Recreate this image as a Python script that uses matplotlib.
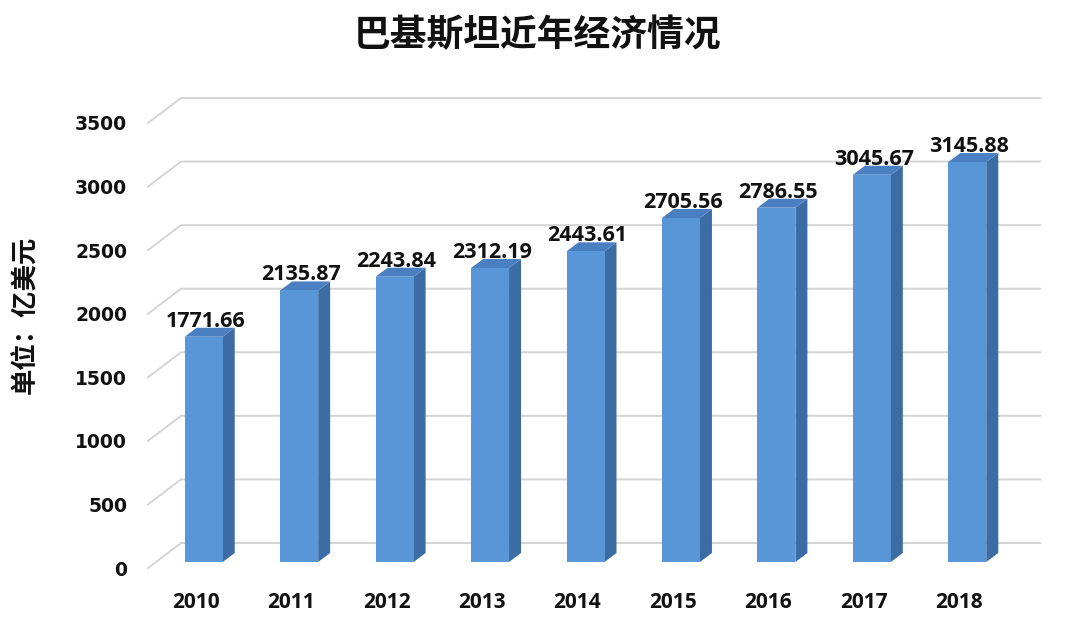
import matplotlib
matplotlib.use('Agg')
import matplotlib.pyplot as plt
from matplotlib.patches import Polygon

plt.rcParams['font.family'] = ['Noto Sans CJK SC', 'DejaVu Sans']

years = ['2010', '2011', '2012', '2013', '2014', '2015', '2016', '2017', '2018']
values = [1771.66, 2135.87, 2243.84, 2312.19, 2443.61, 2705.56, 2786.55, 3045.67, 3145.88]
yticks = [0, 500, 1000, 1500, 2000, 2500, 3000, 3500]
title = '巴基斯坦近年经济情况'
ylabel = '单位：亿美元'

NUMFONT = ['Open Sans', 'Lato', 'DejaVu Sans']

W, H = 1080, 634
fig = plt.figure(figsize=(W / 100, H / 100), dpi=100)
fig.patch.set_facecolor('white')
L, R, B, T = 148, 1007, 568, 123
ax = fig.add_axes([L / W, 1 - B / H, (R - L) / W, (B - T) / H])
ax.set_xlim(-0.5, 8.5)
ax.set_ylim(0, 3500)
ux = 9 / (R - L)        # data units per pixel (x)
uy = 3500 / (B - T)     # data units per pixel (y)

# back wall offset
DX, DY = 33 * ux, 25 * uy
for v in yticks:
    ax.plot([-0.5, -0.5 + DX, 8.5 + DX], [v, v + DY, v + DY],
            color='#d4d4d4', lw=1.4, clip_on=False, zorder=1,
            solid_joinstyle='miter')

# bars
fx, fy = 8 * ux, 6 * uy
bw = 38 * ux
bx, by = 12 * ux, 9 * uy
front_c, side_c, top_c = '#5896d8', '#3c6ca4', '#4a80c2'
for i, v in enumerate(values):
    x0 = i - bw / 2 + fx
    x1 = x0 + bw
    y0 = fy
    y1 = v + fy
    side = Polygon([(x1, y0), (x1 + bx, y0 + by), (x1 + bx, y1 + by), (x1, y1)],
                   closed=True, facecolor=side_c, edgecolor='none', zorder=3, clip_on=False)
    top = Polygon([(x0, y1), (x1, y1), (x1 + bx, y1 + by), (x0 + bx, y1 + by)],
                  closed=True, facecolor=top_c, edgecolor='none', zorder=3, clip_on=False)
    front = Polygon([(x0, y0), (x1, y0), (x1, y1), (x0, y1)],
                    closed=True, facecolor=front_c, edgecolor='none', zorder=4, clip_on=False)
    for p in (side, top, front):
        ax.add_patch(p)
    ax.annotate(f'{v:.2f}', (i, v), xytext=(10 * 0.72, 16 * 0.72),
                textcoords='offset points', ha='center', va='baseline',
                fontsize=15.5, fontweight='bold', family=NUMFONT,
                color='#111111', zorder=5, annotation_clip=False)

ax.set_xticks(range(len(years)))
ax.set_xticklabels(years, fontsize=15, fontweight='bold', family=NUMFONT)
ax.set_yticks(yticks)
ax.set_yticklabels([str(t) for t in yticks], fontsize=13.5, fontweight='bold', family=['DejaVu Sans'])
ax.tick_params(axis='x', length=0, pad=17, colors='#111111')
ax.tick_params(axis='y', length=0, pad=15, colors='#111111')
for s in ax.spines.values():
    s.set_visible(False)
ax.set_facecolor('none')

fig.text(538 / W, 1 - 36 / H, title, ha='center', va='center',
         fontsize=26.5, fontweight='bold', color='#111111')
fig.text(26 / W, 1 - 315 / H, ylabel, ha='center', va='center', rotation=90,
         fontsize=19, fontweight='bold', color='#111111')

fig.savefig('out.png', dpi=100, facecolor='white')
